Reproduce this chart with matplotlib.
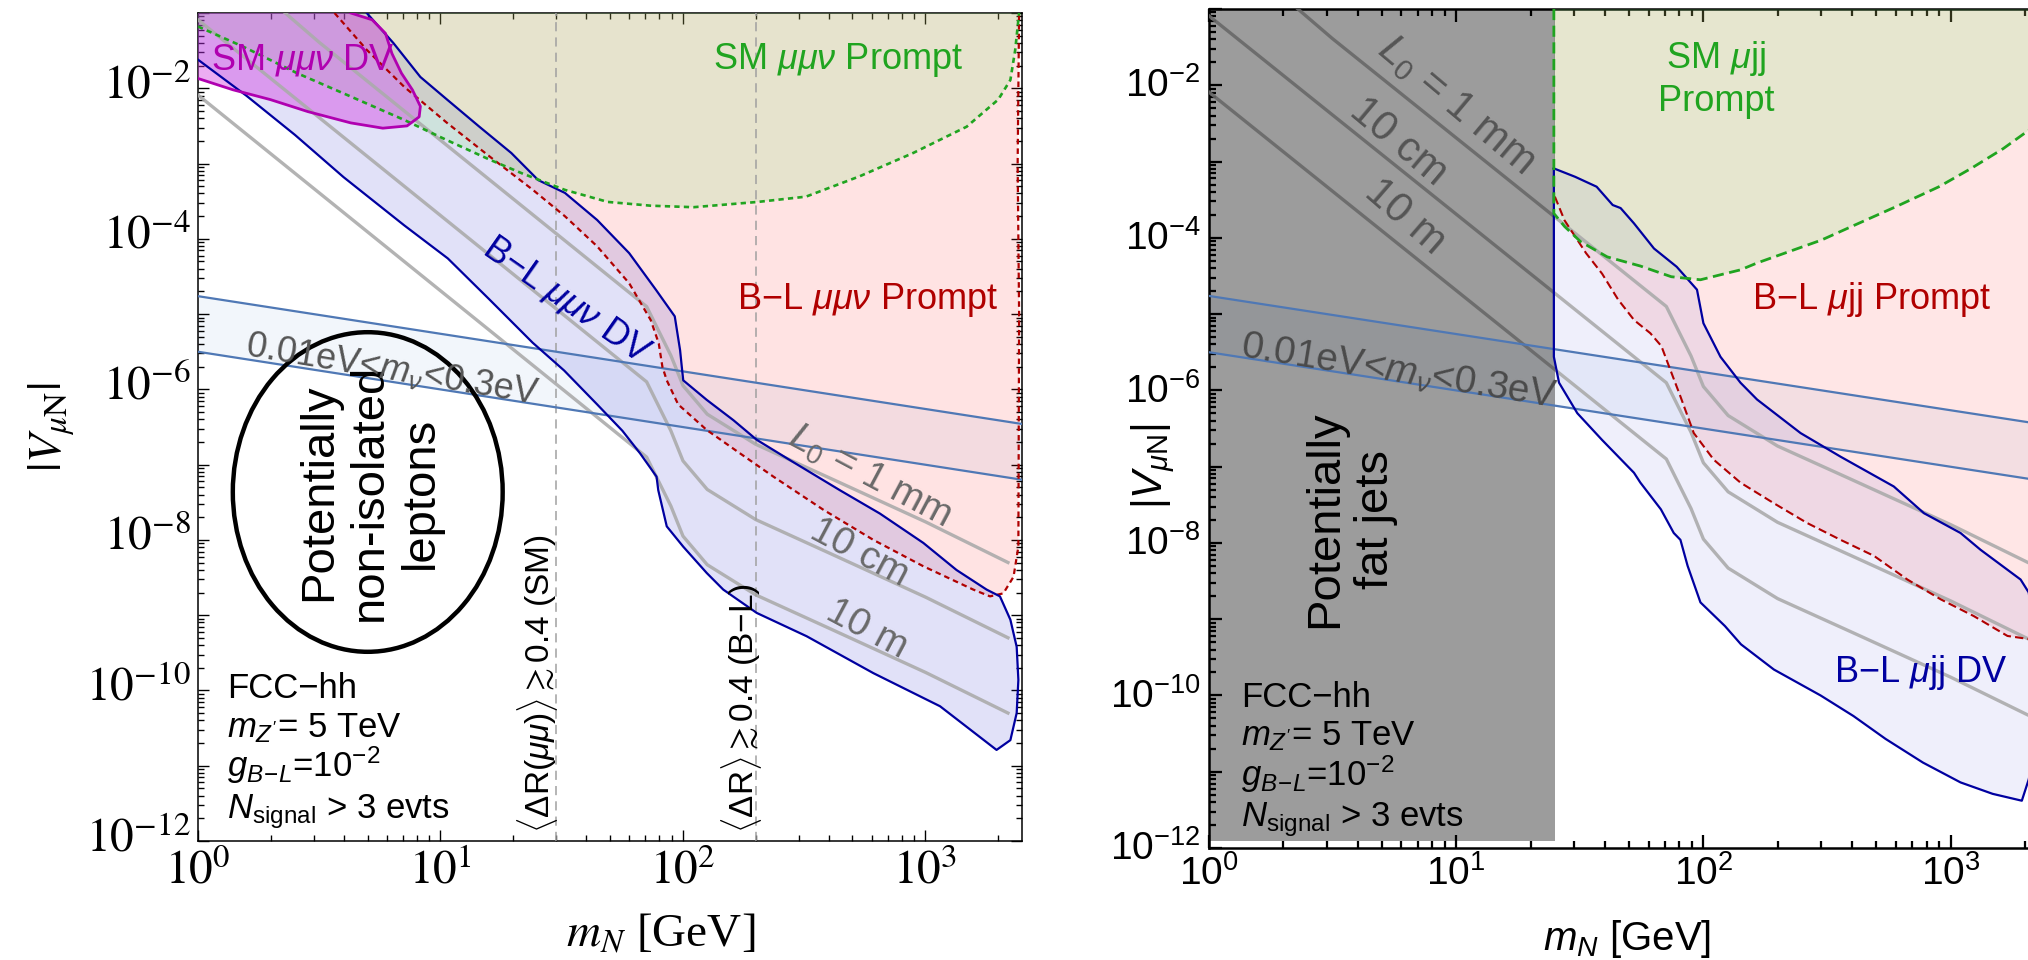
import numpy as np
import matplotlib
matplotlib.use("Agg")
import matplotlib.pyplot as plt
import matplotlib.transforms as mtransforms
from matplotlib.patches import Ellipse
from matplotlib.ticker import FixedLocator, FixedFormatter, LogLocator, NullFormatter

plt.rcParams["font.family"] = ["Liberation Sans", "DejaVu Sans"]
plt.rcParams["mathtext.fontset"] = "custom"
plt.rcParams["mathtext.rm"] = "Liberation Sans"
plt.rcParams["mathtext.it"] = "Liberation Sans:italic"
plt.rcParams["mathtext.bf"] = "Liberation Sans:bold"

# every curve below is (log10 m_N/GeV, log10 |V_muN|)

# ---- mu mu nu channel (left)
mmv_bl_prompt_lm = [0.563, 0.696, 0.85, 1.027, 1.204, 1.381, 1.513, 1.646, 1.778, 1.867, 1.90, 1.915, 1.933,
                    1.98, 2.098, 2.235, 2.373, 2.579, 2.785, 2.991, 3.197, 3.266, 3.321, 3.363, 3.383, 3.386,
                    3.38, 3.386]
mmv_bl_prompt_lv = [-1.0, -1.49, -1.98, -2.46, -2.91, -3.35, -3.70, -4.10, -4.59, -5.08, -5.39, -5.70, -5.88,
                    -6.2, -6.54, -6.85, -7.16, -7.60, -8.0, -8.35, -8.66, -8.75, -8.71, -8.49, -8.09, -5.0,
                    -3.0, -1.0]

mmv_sm_prompt_lm = [0.0, 0.188, 0.409, 0.63, 0.85, 1.027, 1.204, 1.336, 1.513, 1.69, 1.867, 2.043, 2.308,
                    2.507, 2.728, 2.949, 3.17, 3.30, 3.35, 3.37, 3.386]
mmv_sm_prompt_lv = [-1.18, -1.45, -1.80, -2.11, -2.42, -2.69, -2.95, -3.13, -3.35, -3.51, -3.56, -3.58, -3.51,
                    -3.44, -3.17, -2.86, -2.51, -2.15, -1.89, -1.49, -1.0]

# displaced vertex contour: upper edge left->right, then lower edge back to the left
mmv_bl_dv_lm = [0.696, 0.806, 0.917, 1.027, 1.16, 1.292, 1.403, 1.513, 1.646, 1.778, 1.889, 1.966, 1.988,
                1.995, 2.001, 2.098, 2.208, 2.304, 2.441, 2.647, 2.812, 2.991, 3.128, 3.252, 3.307, 3.35,
                3.376, 3.383, 3.376, 3.35, 3.293,
                3.06, 2.785, 2.51, 2.304, 2.166, 2.098, 2.001, 1.933, 1.898, 1.891, 1.823, 1.75, 1.646,
                1.51, 1.38, 1.2, 1.03, 0.85, 0.6, 0.4, 0.2, 0.0]
mmv_bl_dv_lv = [-1.0, -1.40, -1.85, -2.15, -2.51, -2.86, -3.22, -3.39, -3.75, -4.19, -4.68, -5.03, -5.48,
                -5.70, -5.88, -6.14, -6.41, -6.67, -6.94, -7.34, -7.65, -8.04, -8.40, -8.66, -8.75, -9.06,
                -9.42, -9.86, -10.30, -10.66, -10.79,
                -10.21, -9.77, -9.28, -8.97, -8.66, -8.44, -8.09, -7.82, -7.34, -7.16, -6.85, -6.55, -6.2,
                -5.75, -5.38, -4.8, -4.26, -3.82, -3.18, -2.62, -2.1, -1.62]

mmv_sm_dv_lm = [0.63, 0.718, 0.773, 0.80, 0.839, 0.884, 0.917, 0.912, 0.862, 0.762, 0.63, 0.453, 0.298,
                0.144, 0.0]
mmv_sm_dv_lv = [-1.0, -1.09, -1.27, -1.54, -1.80, -2.02, -2.24, -2.38, -2.50, -2.53, -2.46, -2.31, -2.15,
                -2.02, -1.87]

# ---- mu j j channel (right)
mjj_sm_prompt_lm = [1.395, 1.395, 1.438, 1.503, 1.611, 1.745, 1.87, 1.988, 2.087, 2.15, 2.217, 2.347, 2.477,
                    2.628, 2.78, 2.953, 3.083, 3.213, 3.316, 3.36, 3.40]
mjj_sm_prompt_lv = [-1.0, -3.68, -3.85, -4.05, -4.25, -4.37, -4.51, -4.55, -4.47, -4.42, -4.33, -4.18, -4.03,
                    -3.81, -3.59, -3.33, -3.09, -2.83, -2.59, -2.35, -2.0]

mjj_bl_prompt_lm = [1.399, 1.399, 1.438, 1.525, 1.59, 1.655, 1.72, 1.785, 1.83, 1.866, 1.907, 1.961, 2.042,
                    2.15, 2.285, 2.42, 2.555, 2.69, 2.825, 2.96, 3.094, 3.23, 3.316, 3.36, 3.40]
mjj_bl_prompt_lv = [-1.0, -3.46, -3.77, -4.20, -4.47, -4.81, -5.08, -5.25, -5.42, -5.73, -6.08, -6.56, -6.91,
                    -7.21, -7.48, -7.74, -7.96, -8.17, -8.48, -8.74, -8.96, -9.22, -9.26, -9.2, -9.0]

mjj_bl_dv_lm = [1.395, 1.481, 1.568, 1.633, 1.665, 1.719, 1.80, 1.892, 1.974, 2.0, 2.069, 2.15, 2.217, 2.393,
                2.555, 2.77, 2.892, 3.04, 3.121, 3.283, 3.316, 3.34, 3.35, 3.34, 3.316, 3.288,
                3.17, 3.04, 2.888, 2.737, 2.607, 2.474, 2.285, 2.152, 2.087, 1.988, 1.936, 1.907, 1.88,
                1.828, 1.745, 1.719, 1.59, 1.49, 1.416, 1.395, 1.395]
mjj_bl_dv_lv = [-3.09, -3.20, -3.33, -3.57, -3.61, -3.81, -4.14, -4.38, -4.68, -5.12, -5.56, -5.90, -6.12, -6.56,
                -6.87, -7.26, -7.61, -7.87, -8.09, -8.48, -8.65, -9.2, -10.0, -10.7, -11.1, -11.38,
                -11.29, -11.14, -10.88, -10.57, -10.27, -10.0, -9.66, -9.33, -9.09, -8.78, -8.30, -7.96, -7.87,
                -7.56, -7.21, -7.08, -6.65, -6.30, -5.90, -5.56, -3.09]

fatjet_mmax = 25.0  # GeV

# ---- proper decay length contours (both panels)
l0_lm = [0.0, 0.5, 1.0, 1.5, 1.85, 1.95, 2.0, 2.1, 2.3, 2.6, 3.0, 3.34]
l0_1mm_lv = [0.0, -1.39, -2.69, -3.99, -4.9, -5.55, -5.95, -6.33, -6.73, -7.17, -7.76, -8.30]
l0_10cm_lv = [-1.09, -2.39, -3.69, -4.99, -5.9, -6.55, -6.95, -7.33, -7.73, -8.17, -8.76, -9.30]
l0_10m_lv = [-2.09, -3.39, -4.69, -5.99, -6.9, -7.55, -7.95, -8.33, -8.73, -9.17, -9.76, -10.30]

# seesaw band, 0.01 eV < m_nu < 0.3 eV
band_m = [1.0, 2500.0]
band_hi = [1.73e-5, 3.47e-7]
band_lo = [3.16e-6, 6.3e-8]

# Delta R isolation cuts
dr_cut_sm = 30.0
dr_cut_bl = 200.0

GREEN = "#20a420"
RED = "#b00000"
BLUE = "#0000a0"
MAGENTA = "#b000b0"
SERIF = "Liberation Serif"


def xy(lm, lv):
    return 10.0 ** np.asarray(lm), 10.0 ** np.asarray(lv)


def setup(ax, serif):
    ax.set_xscale("log")
    ax.set_yscale("log")
    ax.set_xlim(1, 2500)
    ax.set_ylim(1e-12, 1e-1)
    ax.xaxis.set_major_locator(FixedLocator([1, 10, 100, 1000]))
    ax.xaxis.set_major_formatter(FixedFormatter([r"$10^{%d}$" % e for e in range(4)]))
    ax.xaxis.set_minor_locator(LogLocator(10, subs=np.arange(2, 10), numticks=30))
    ax.xaxis.set_minor_formatter(NullFormatter())
    ax.yaxis.set_major_locator(FixedLocator(10.0 ** np.arange(-12, 0)))
    ax.yaxis.set_major_formatter(FixedFormatter(
        [r"$10^{%d}$" % e if e % 2 == 0 else "" for e in range(-12, 0)]))
    ax.yaxis.set_minor_locator(LogLocator(10, subs=np.arange(2, 10), numticks=30))
    ax.yaxis.set_minor_formatter(NullFormatter())
    if serif:
        size, mfam, lw, maj, mnr, lift_pt = 34, "stix", 1.1, 8, 4, 5
    else:
        size, mfam, lw, maj, mnr, lift_pt = 28, "custom", 1.8, 9.5, 5, 2
    ax.tick_params(which="both", direction="in", top=True, right=True, width=lw * 0.9)
    ax.tick_params(which="major", length=maj)
    ax.tick_params(which="minor", length=mnr)
    ax.tick_params(axis="y", pad=5 if serif else 6)
    ax.tick_params(axis="x", pad=6 if serif else 5)
    for t in ax.xaxis.get_major_ticks() + ax.yaxis.get_major_ticks():
        t.label1.set_fontsize(size)
        t.label1.set_math_fontfamily(mfam)
        if serif:
            t.label1.set_family(SERIF)
    # centre the mantissa digits on the tick rather than the whole label
    lift = mtransforms.ScaledTranslation(0, lift_pt / 72, ax.figure.dpi_scale_trans)
    for t in ax.yaxis.get_major_ticks():
        t.label1.set_transform(t.label1.get_transform() + lift)
    for s in ax.spines.values():
        s.set_linewidth(lw)


def l0_lines(ax):
    for lv in (l0_1mm_lv, l0_10cm_lv, l0_10m_lv):
        ax.plot(*xy(l0_lm, lv), color="#ababab", lw=2.4, alpha=0.9, zorder=6)


def band(ax):
    ax.fill_between(band_m, band_lo, band_hi, color="#5a8fd0", alpha=0.08, lw=0, zorder=1)
    for v in (band_hi, band_lo):
        ax.plot(band_m, v, color="#4f78b5", lw=1.6, zorder=7.5)


def info(ax, lm0, lvs, size=25):
    lines = ["FCC−hh", r"$m_{Z'}$= 5 TeV", r"$g_{B\!-\!L}$=10$^{-2}$", r"$N_{\rm signal}$ > 3 evts"]
    for s, lv in zip(lines, lvs):
        ax.text(10 ** lm0, 10 ** lv, s, fontsize=size, ha="left", va="baseline", zorder=10)


fig = plt.figure(figsize=(20.28, 9.6), dpi=100)
ax1 = fig.add_axes([198 / 2028, 1 - 841 / 960, 824 / 2028, 828 / 960])
ax2 = fig.add_axes([1209 / 2028, 1 - 848 / 960, 840 / 2028, 839 / 960])

# ================= left panel =================
setup(ax1, True)
band(ax1)

m, v = xy(mmv_bl_prompt_lm, mmv_bl_prompt_lv)
ax1.fill(np.r_[m, m[0]], np.r_[v, v[0]], color="#ff2020", alpha=0.12, lw=0, zorder=2)
ax1.plot(m, v, color=RED, lw=1.6, ls=(0, (2.5, 1.8)), zorder=8)

m, v = xy(mmv_bl_dv_lm, mmv_bl_dv_lv)
ax1.fill(np.r_[m, 1.0, m[0]], np.r_[v, 0.1, v[0]], color="#1a1ad0", alpha=0.13, lw=0, zorder=3)
ax1.plot(m, v, color=BLUE, lw=1.6, zorder=8)

m, v = xy(mmv_sm_prompt_lm, mmv_sm_prompt_lv)
ax1.fill(np.r_[m, m[0]], np.r_[v, 0.1], color="#82e875", alpha=0.2, lw=0, zorder=4)
ax1.plot(m, v, color=GREEN, lw=1.9, ls=(0, (2.0, 1.6)), zorder=8)

m, v = xy(mmv_sm_dv_lm, mmv_sm_dv_lv)
ax1.fill(np.r_[m, 1.0], np.r_[v, 0.1], color="#d030e0", alpha=0.4, lw=0, zorder=5)
ax1.plot(m, v, color=MAGENTA, lw=2.0, zorder=8)

l0_lines(ax1)
for mc in (dr_cut_sm, dr_cut_bl):
    ax1.axvline(mc, color="#a0a0a0", lw=1.1, ls=(0, (6, 4)), zorder=6)

ax1.add_patch(Ellipse((0.206, 0.4215), 0.3275, 0.386, transform=ax1.transAxes,
                      fill=False, ec="black", lw=3.2, zorder=9))
ax1.text(10 ** 0.71, 10 ** -7.37, "Potentially\nnon-isolated\nleptons", rotation=90,
         ha="center", va="center", fontsize=34, linespacing=1.2, zorder=10)

ax1.text(10 ** 0.054, 10 ** -1.63, r"SM $\mu\mu\nu$ DV", color=MAGENTA, fontsize=26,
         ha="left", va="center", zorder=10)
ax1.text(10 ** 2.64, 10 ** -1.63, r"SM $\mu\mu\nu$ Prompt", color=GREEN, fontsize=26,
         ha="center", va="center", zorder=10)
ax1.text(10 ** 2.763, 10 ** -4.81, r"B−L $\mu\mu\nu$ Prompt", color=RED, fontsize=26,
         ha="center", va="center", zorder=10)
ax1.text(10 ** 1.52, 10 ** -4.82, r"B−L $\mu\mu\nu$ DV", color=BLUE, fontsize=26, rotation=-35,
         rotation_mode="anchor", ha="center", va="center", zorder=10)
ax1.text(10 ** 0.80, 10 ** -5.74, r"0.01eV<$m_\nu$<0.3eV", color="#555555", fontsize=26,
         rotation=-9.5, rotation_mode="anchor", ha="center", va="center", zorder=10)
for lab, lm, lv in ((r"$L_0$ = 1 mm", 2.771, -7.16), ("10 cm", 2.726, -8.17), ("10 m", 2.759, -9.19)):
    ax1.text(10 ** lm, 10 ** lv, lab, color="#6a6a6a", fontsize=28, rotation=-28,
             rotation_mode="anchor", ha="center", va="center", zorder=10)
ax1.text(10 ** 1.402, 10 ** -11.89, r"$\langle\Delta\mathrm{R}(\mu\mu)\rangle\gtrsim$0.4 (SM)",
         rotation=90, fontsize=24, ha="center", va="bottom", zorder=10)
ax1.text(10 ** 2.243, 10 ** -11.89, r"$\langle\Delta\mathrm{R}\rangle\gtrsim$0.4 (B−L)",
         rotation=90, fontsize=24, ha="center", va="bottom", zorder=10)
info(ax1, 0.12, [-10.10, -10.62, -11.15, -11.70])

ax1.set_xlabel(r"$m_N$ [GeV]", fontsize=34, family=SERIF, math_fontfamily="stix")
ax1.xaxis.set_label_coords(0.561, -0.113)
ax1.xaxis.label.set_va("center")
ax1.set_ylabel(r"$|V_{\mu\mathrm{N}}|$", fontsize=34, family=SERIF, math_fontfamily="stix")
ax1.yaxis.set_label_coords(-0.177, 0.5)
ax1.yaxis.label.set_va("center")

# ================= right panel =================
setup(ax2, False)
band(ax2)

m, v = xy(mjj_bl_prompt_lm, mjj_bl_prompt_lv)
ax2.fill(np.r_[m, m[-1]], np.r_[v, 0.1], color="#ff2020", alpha=0.11, lw=0, zorder=2)
ax2.plot(m[1:], v[1:], color=RED, lw=1.5, ls=(0, (4, 2)), zorder=8)

m, v = xy(mjj_bl_dv_lm, mjj_bl_dv_lv)
ax2.fill(m, v, color="#1a1ad0", alpha=0.065, lw=0, zorder=3)
ax2.plot(m, v, color=BLUE, lw=1.6, zorder=8)

m, v = xy(mjj_sm_prompt_lm, mjj_sm_prompt_lv)
ax2.fill(np.r_[m, m[-1]], np.r_[v, 0.1], color="#82e875", alpha=0.2, lw=0, zorder=4)
ax2.plot(m, v, color=GREEN, lw=2.0, ls=(0, (4, 2)), zorder=8)

l0_lines(ax2)
ax2.axvspan(1, fatjet_mmax, ymin=0.008, color="black", alpha=0.39, lw=0, zorder=6.5)

ax2.text(10 ** 0.571, 10 ** -7.69, "Potentially\nfat jets", rotation=90, ha="center", va="center",
         fontsize=34, linespacing=1.2, zorder=10)
ax2.text(10 ** 2.05, 10 ** -1.92, "SM $\\mu$jj\nPrompt", color=GREEN, fontsize=26, ha="center",
         va="center", multialignment="center", zorder=10)
ax2.text(10 ** 2.68, 10 ** -4.81, r"B−L $\mu$jj Prompt", color=RED, fontsize=26,
         ha="center", va="center", zorder=10)
ax2.text(10 ** 2.88, 10 ** -9.70, r"B−L $\mu$jj DV", color=BLUE, fontsize=26,
         ha="center", va="center", zorder=10)
ax2.text(10 ** 0.765, 10 ** -5.76, r"0.01eV<$m_\nu$<0.3eV", color="#4a4a4a", fontsize=28,
         rotation=-9.2, rotation_mode="anchor", ha="center", va="center", zorder=10)
for lab, lm, lv, rot in ((r"$L_0$ = 1 mm", 1.0, -2.26, -40), ("10 cm", 0.765, -2.75, -40),
                         ("10 m", 0.795, -3.73, -41)):
    ax2.text(10 ** lm, 10 ** lv, lab, color="#555555", fontsize=30, rotation=rot,
             rotation_mode="anchor", ha="center", va="center", zorder=10)
info(ax2, 0.13, [-10.15, -10.66, -11.19, -11.71])

ax2.set_xlabel(r"$m_N$ [GeV]", fontsize=29)
ax2.xaxis.set_label_coords(0.498, -0.108)
ax2.xaxis.label.set_va("center")
ax2.set_ylabel(r"$|V_{\mu\mathrm{N}}|$", fontsize=30)
ax2.yaxis.set_label_coords(-0.066, 0.455)
ax2.yaxis.label.set_va("center")

fig.savefig("out.png", dpi=100)
